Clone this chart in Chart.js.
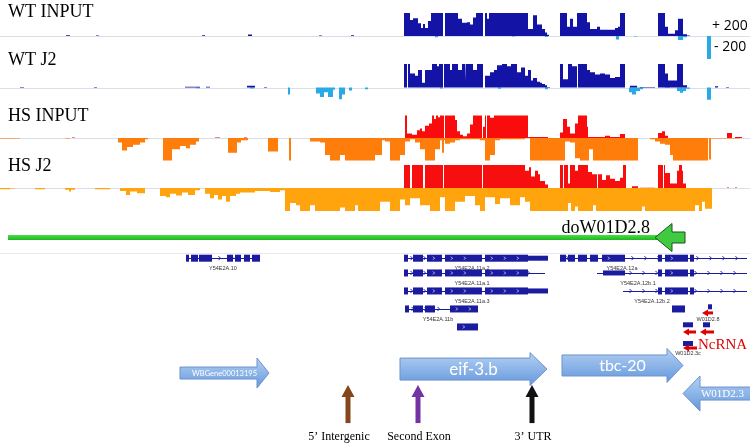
<!DOCTYPE html>
<html>
<head>
<meta charset="utf-8">
<script src="https://cdn.jsdelivr.net/npm/chart.js@4.4.1/dist/chart.umd.min.js"></script>
<style>
  html, body { margin: 0; padding: 0; background: #fff; }
  canvas { display: block; }
</style>
</head>
<body>
<canvas id="locus" width="750" height="443"></canvas>
<script>
// ---- coverage tracks: [position, value] -- value holds until the next position ----
const trackNames = ['WT INPUT', 'WT J2', 'HS INPUT', 'HS J2'];

const wtInputPlus = [[0,0],[66,6],[70,0],[96,5],[99,0],[202,6],[205,0],[248,14],[252,0],[319,5],[322,0],[351,6],[354,0],
  [404,200],[410,140],[413,155],[418,110],[421,70],[423,105],[425,70],[428,130],[431,200],[443,0],[445,200],[458,150],[462,115],[467,120],[470,100],[473,160],[476,200],[483,0],[485,200],[487,150],[489,200],[528,60],[533,180],[537,100],[542,60],[545,30],[547,10],[549,0],
  [560,200],[567,80],[570,150],[573,80],[577,200],[587,120],[590,60],[597,80],[600,55],[615,70],[618,80],[620,200],[625,0],
  [658,200],[665,80],[668,20],[675,50],[678,150],[683,15],[687,5],[690,0],[750,0]];
const wtInputMinus = [[0,0],[435,-10],[438,0],[512,-5],[515,0],[545,-8],[548,0],[616,-30],[619,0],[634,-5],[637,0],[678,-35],[683,-10],[687,0],[750,0]];
const scaleBar = [[0,0],[707,-200],[711,0],[750,0]];

const wtJ2Plus = [[0,0],[20,5],[24,0],[94,5],[97,0],[185,7],[200,0],[206,6],[210,0],[247,14],[255,0],[264,5],[267,0],
  [404,200],[407,0],[408,200],[410,120],[415,100],[418,150],[422,40],[425,150],[432,200],[437,180],[439,200],[443,0],[444,200],[450,150],[452,200],[458,150],[462,200],[465,60],[466,200],[470,200],[473,150],[477,200],[483,0],[485,100],[490,130],[494,150],[497,190],[502,200],[507,180],[511,200],[517,130],[521,170],[525,100],[528,150],[531,60],[533,80],[537,50],[540,40],[542,30],[545,20],[547,5],[550,0],
  [560,200],[563,70],[568,200],[572,180],[577,0],[578,200],[587,150],[590,130],[595,110],[600,120],[605,110],[610,80],[615,90],[620,200],[625,0],
  [630,15],[637,0],[640,5],[655,0],[658,200],[665,120],[668,60],[677,200],[683,20],[687,0],[715,10],[718,0],[726,5],[729,0],[750,0]];
const wtJ2Minus = [[0,0],[196,-6],[200,0],[250,-8],[254,0],[288,-60],[290,0],[316,-50],[320,-80],[324,-40],[328,-80],[333,-20],[335,0],[339,-100],[342,-60],[345,0],[349,-25],[352,0],[365,-15],[368,0],
  [440,-8],[443,0],[498,-10],[501,0],[545,-15],[548,0],[629,-40],[632,-60],[636,-30],[640,-15],[643,0],[665,-5],[670,0],[677,-30],[680,-45],[683,-30],[686,-10],[690,0],[707,-105],[711,0],[750,0]];

const hsInputPlus = [[0,0],[72,5],[75,0],[215,5],[220,0],[244,4],[247,0],
  [405,200],[407,40],[412,30],[417,70],[420,85],[422,60],[425,110],[429,130],[432,200],[434,170],[436,200],[438,185],[440,200],[444,0],[445,200],[455,160],[457,60],[460,30],[463,15],[467,40],[470,120],[473,200],[482,0],[483,100],[485,200],[486,0],[487,200],[490,180],[494,200],[528,8],[548,0],
  [560,50],[563,170],[567,100],[570,40],[575,130],[578,200],[587,100],[588,10],[605,20],[610,10],[620,35],[625,0],
  [658,45],[662,60],[665,20],[668,0],[727,45],[732,0],[735,10],[742,0],[750,0]];
const hsInputMinus = [[0,-5],[20,0],[65,-5],[70,0],[118,-40],[122,-110],[127,-80],[133,-60],[140,-40],[145,-10],[148,0],
  [163,-200],[172,-100],[180,-70],[186,-90],[190,-60],[196,-30],[199,0],
  [228,-130],[237,-40],[241,-20],[248,0],[268,-120],[278,0],[289,-200],[291,0],
  [310,-30],[320,-40],[325,-150],[330,-200],[340,-150],[345,-200],[375,-150],[382,-20],[385,-30],[390,-200],[400,-150],[405,-30],[410,-10],[415,-40],[420,-100],[425,-200],[435,-100],[440,-20],[442,-130],[444,-20],[445,-50],[450,-40],[455,-20],[460,-10],[480,-20],[485,-200],[490,-150],[495,-20],[500,-10],[525,0],
  [530,-200],[565,-30],[570,-40],[575,-180],[580,-200],[589,-100],[593,-200],[638,0],
  [650,-10],[655,-30],[660,-50],[665,-60],[670,-150],[673,-200],[708,0],[709,-190],[711,-5],[740,0],[750,0]];

const hsJ2Plus = [[0,0],[404,200],[410,0],[412,200],[423,0],[425,200],[443,0],[444,200],[482,0],[483,200],[525,150],[529,180],[531,100],[535,150],[538,120],[540,60],[545,30],[548,0],
  [560,200],[563,0],[564,200],[568,40],[570,200],[575,150],[578,200],[588,140],[592,120],[597,0],[598,120],[602,70],[606,110],[610,80],[615,60],[620,90],[623,200],[626,0],
  [632,15],[638,0],[640,3],[655,0],[658,200],[663,0],[664,200],[665,130],[670,40],[677,150],[679,200],[682,150],[683,40],[686,0],[727,5],[729,0],[735,5],[737,0],[750,0]];
const hsJ2Minus = [[0,-10],[10,-5],[15,0],[35,-10],[45,0],[65,-15],[69,-30],[71,-15],[75,0],[95,-10],[110,0],
  [120,-25],[126,-60],[130,-30],[137,-45],[145,0],[160,-70],[166,-80],[170,-50],[176,-65],[182,-40],[188,-60],[195,-20],[200,0],
  [205,-50],[210,-90],[214,-60],[218,-100],[222,-70],[226,-120],[230,-70],[236,-50],[240,-40],[255,-25],[270,-35],[280,-20],[285,-200],[290,-130],[296,-150],[300,-200],[310,-150],[315,-200],[340,-170],[345,-200],[355,-150],[358,-200],
  [380,-120],[390,-200],[400,-100],[405,-150],[410,-90],[420,-150],[430,-200],[440,-80],[445,-200],[455,-120],[465,-70],[475,-150],[480,-200],[485,-80],[495,-140],[500,-90],[510,-150],[520,-80],[525,-120],[530,-200],[568,-130],[571,-200],[575,-160],[578,-200],[593,-150],[596,-200],[642,-160],[645,-200],[695,-150],[699,-200],[702,-120],[705,-180],[712,0],[750,0]];

// ---- annotation features (position along the locus, lane) ----
const featureName = 'doW01D2.8';
const featureSpan = [8, 685];
const featureLane = 1.25;

const transcripts = [
  { name: 'Y54E2A.10',    lane: 2.4,  span: [186, 260], exons: [[186,189],[191,198],[199,212],[227,233],[235,241],[244,250],[252,260]], utr: [], labelAt: 223 },
  { name: 'Y54E2A.11a.2', lane: 2.4,  span: [404, 548], exons: [[404,408],[413,423],[427,442],[445,482],[485,528]], utr: [[528,548]], labelAt: 472 },
  { name: 'Y54E2A.12a',   lane: 2.4,  span: [560, 747], exons: [[560,566],[568,575],[578,587],[590,598],[602,625],[658,662],[665,688],[690,694]], utr: [], labelAt: 622 },
  { name: 'Y54E2A.11a.1', lane: 3.22, span: [404, 545], exons: [[404,408],[413,423],[427,442],[445,482],[485,528]], utr: [], labelAt: 472 },
  { name: 'Y54E2A.12b.1', lane: 3.22, span: [597, 747], exons: [[658,662],[665,688],[690,694]], utr: [[603,625]], labelAt: 638 },
  { name: 'Y54E2A.11a.3', lane: 4.22, span: [404, 548], exons: [[404,408],[413,423],[427,442],[445,482],[485,528]], utr: [[528,548]], labelAt: 472 },
  { name: 'Y54E2A.12b.2', lane: 4.22, span: [623, 747], exons: [[658,662],[665,688],[690,694]], utr: [], labelAt: 652 },
  { name: 'Y54E2A.11b',   lane: 5.22, span: [405, 478], exons: [[405,409],[413,423],[425,435],[450,478]], utr: [], labelAt: 438 },
  { name: '',             lane: 5.22, span: [672, 685], exons: [[672,685]], utr: [], labelAt: 0 },
  { name: '',             lane: 6.22, span: [457, 478], exons: [[457,478]], utr: [], labelAt: 0 }
];

const ncrnaBlocks = [[708,712,5.1],[683,693,6.1],[703,710,6.1],[683,693,7.14]];
const ncrnaArrows = [[713,702,5.44],[696,683,6.5],[714,700,6.5],[697,683,7.39]];
const smallLabels = [['W01D2.8',708,5.83],['W01D2.3c',688,7.72]];
const ncrnaText = ['NcRNA', 698, 7.45];

const geneArrows = [
  { name: 'WBGene00013195', from: 180, to: 269, lane: 8.78 },
  { name: 'eif-3.b',        from: 400, to: 547, lane: 8.56 },
  { name: 'tbc-20',         from: 562, to: 683, lane: 8.36 },
  { name: 'W01D2.3',        from: 762, to: 683, lane: 9.92 }
];

const markerNames = ['5\u2019 Intergenic', 'Second Exon', '3\u2019 UTR'];
const markerPos = [348, 418, 532];
const markerLabelPos = [339, 419, 533];
const markerColors = ['#84461a', '#7433a3', '#111111'];

// ---- layout ----
const H = 443;
const trackLayout = [
  { id: 'yWI', base: 36,   half: 23,   labelY: 17 },
  { id: 'yWJ', base: 87.5, half: 23.5, labelY: 65 },
  { id: 'yHI', base: 138,  half: 22.5, labelY: 121 },
  { id: 'yHJ', base: 188,  half: 23,   labelY: 171 }
];
const lanePx = 18, laneTop = 215;
const arrowStyles = [
  { body: 12, head: 30, len: 12, font: '7.5px Lato' },
  { body: 22, head: 33, len: 17, font: '17px Lato' },
  { body: 21, head: 34, len: 16, font: '16px Lato' },
  { body: 13, head: 35, len: 17, font: '11px "Liberation Serif"' }
];

function steps(runs) {
  const pts = [];
  runs.forEach(([x, v], i) => {
    const prev = i ? runs[i - 1][1] : 0;
    pts.push({ x: x, y: prev }, { x: x, y: v });
  });
  return pts;
}

function trackAxis(t) {
  const k = 200 / t.half;
  return { axis: 'y', display: false, min: -(H - t.base) * k, max: t.base * k };
}

function area(runs, color, axis) {
  return {
    data: steps(runs), yAxisID: axis, fill: 'origin',
    backgroundColor: color, borderColor: 'rgba(0,0,0,0)', borderWidth: 0,
    pointRadius: 0, tension: 0
  };
}

const scales = { x: { type: 'linear', display: false, min: 0, max: 750 } };
trackLayout.forEach(t => { scales[t.id] = trackAxis(t); });
scales.lane = { axis: 'y', position: 'left', display: false, reverse: true,
  min: -laneTop / lanePx, max: (H - laneTop) / lanePx };

// ---- drawing of labels and gene annotations ----
const annotate = {
  id: 'annotate',
  beforeDatasetsDraw(chart) {
    const ctx = chart.ctx;
    ctx.save();
    ctx.strokeStyle = '#d9dee8';
    ctx.lineWidth = 1;
    trackLayout.forEach(t => {
      const y = Math.round(chart.scales[t.id].getPixelForValue(0)) + 0.5;
      ctx.beginPath(); ctx.moveTo(0, y); ctx.lineTo(750, y); ctx.stroke();
    });
    const yl = Math.round(chart.scales.lane.getPixelForValue(2.1)) + 0.5;
    ctx.strokeStyle = '#e6e9f0';
    ctx.beginPath(); ctx.moveTo(0, yl); ctx.lineTo(750, yl); ctx.stroke();
    ctx.restore();
  },
  afterDatasetsDraw(chart) {
    const ctx = chart.ctx;
    const X = v => chart.scales.x.getPixelForValue(v);
    const Y = v => chart.scales.lane.getPixelForValue(v);
    ctx.save();

    // track names
    ctx.fillStyle = '#000';
    ctx.font = '18px "Liberation Serif"';
    ctx.textBaseline = 'alphabetic';
    trackNames.forEach((n, i) => ctx.fillText(n, 8, trackLayout[i].labelY));

    // scale legend
    ctx.font = '14px "Open Sans"';
    const sAx = chart.scales.yWI;
    ctx.fillText('+ 200', 712, sAx.getPixelForValue(0) - 6);
    ctx.fillText('- 200', 714, sAx.getPixelForValue(-130));

    // green feature arrow
    const fy = Y(featureLane);
    const fx0 = X(featureSpan[0]), fx1 = X(featureSpan[1]);
    const tip = fx1 - 30, hb = fx1 - 13;
    const g = ctx.createLinearGradient(0, fy - 3, 0, fy + 3);
    g.addColorStop(0, '#4fe04f'); g.addColorStop(1, '#18b418');
    ctx.fillStyle = g;
    ctx.fillRect(fx0, fy - 2.5, hb - fx0, 5);
    ctx.beginPath();
    ctx.moveTo(tip, fy); ctx.lineTo(hb, fy - 14); ctx.lineTo(hb, fy - 5.5); ctx.lineTo(fx1, fy - 5.5);
    ctx.lineTo(fx1, fy + 5.5); ctx.lineTo(hb, fy + 5.5); ctx.lineTo(hb, fy + 14); ctx.closePath();
    ctx.fillStyle = '#3fca3f'; ctx.fill();
    ctx.strokeStyle = '#1f4f1f'; ctx.lineWidth = 1; ctx.stroke();
    ctx.fillStyle = '#000';
    ctx.font = '18px "Liberation Serif"';
    ctx.textAlign = 'right';
    ctx.fillText(featureName, tip - 5, fy - 4.5);

    // transcripts
    const blue = '#1b1ba0';
    transcripts.forEach(t => {
      const y = Y(t.lane);
      ctx.strokeStyle = blue; ctx.lineWidth = 1;
      ctx.beginPath(); ctx.moveTo(X(t.span[0]), Math.round(y) + 0.5); ctx.lineTo(X(t.span[1]), Math.round(y) + 0.5); ctx.stroke();
      // chevrons on the intron line
      for (let p = t.span[0] + 8; p < t.span[1] - 3; p += 13) {
        ctx.beginPath(); ctx.moveTo(X(p) - 1.5, y - 2); ctx.lineTo(X(p) + 0.5, y); ctx.lineTo(X(p) - 1.5, y + 2); ctx.stroke();
      }
      ctx.fillStyle = blue;
      t.utr.forEach(([a, b]) => ctx.fillRect(X(a), y - 2.5, X(b) - X(a), 5));
      t.exons.forEach(([a, b]) => {
        ctx.fillStyle = blue;
        ctx.fillRect(X(a), y - 3.5, X(b) - X(a), 7);
        if (b - a >= 14) {
          ctx.strokeStyle = '#c8c8f0';
          for (let p = a + 7; p < b - 4; p += 13) {
            ctx.beginPath(); ctx.moveTo(X(p) - 1, y - 1.5); ctx.lineTo(X(p) + 0.5, y); ctx.lineTo(X(p) - 1, y + 1.5); ctx.stroke();
          }
        }
      });
      if (t.name) {
        ctx.fillStyle = '#333';
        ctx.font = '5.5px "Liberation Sans"';
        ctx.textAlign = 'center'; ctx.textBaseline = 'middle';
        ctx.fillText(t.name, X(t.labelAt), y + 10.5);
      }
    });

    // ncRNA marks
    ncrnaBlocks.forEach(([a, b, l]) => { ctx.fillStyle = blue; ctx.fillRect(X(a), Y(l) - 2.5, X(b) - X(a), 5); });
    ncrnaArrows.forEach(([a, b, l]) => {
      const y = Y(l);
      ctx.fillStyle = '#e00000';
      ctx.fillRect(X(b) + 5, y - 1.5, X(a) - X(b) - 5, 3);
      ctx.beginPath(); ctx.moveTo(X(b), y); ctx.lineTo(X(b) + 6, y - 3.5); ctx.lineTo(X(b) + 6, y + 3.5); ctx.closePath(); ctx.fill();
    });
    ctx.fillStyle = '#333';
    ctx.font = '5.5px "Liberation Sans"';
    ctx.textAlign = 'center'; ctx.textBaseline = 'middle';
    smallLabels.forEach(([n, x, l]) => ctx.fillText(n, X(x), Y(l)));
    ctx.fillStyle = '#e00000';
    ctx.font = '15px "Liberation Serif"';
    ctx.textAlign = 'left'; ctx.textBaseline = 'alphabetic';
    ctx.fillText(ncrnaText[0], X(ncrnaText[1]), Y(ncrnaText[2]));

    // gene block arrows
    geneArrows.forEach((a, i) => {
      const s = arrowStyles[i];
      const y = Y(a.lane), x0 = X(a.from), x1 = X(a.to);
      const dir = Math.sign(x1 - x0), hbx = x1 - dir * s.len;
      ctx.beginPath();
      ctx.moveTo(x0, y - s.body / 2); ctx.lineTo(hbx, y - s.body / 2); ctx.lineTo(hbx, y - s.head / 2);
      ctx.lineTo(x1, y); ctx.lineTo(hbx, y + s.head / 2); ctx.lineTo(hbx, y + s.body / 2);
      ctx.lineTo(x0, y + s.body / 2); ctx.closePath();
      const gg = ctx.createLinearGradient(0, y - s.head / 2, 0, y + s.head / 2);
      gg.addColorStop(0, '#b4d1f3'); gg.addColorStop(1, '#6598dc');
      ctx.fillStyle = gg; ctx.fill();
      ctx.strokeStyle = '#6b93cc'; ctx.lineWidth = 1; ctx.stroke();
      ctx.fillStyle = '#fff';
      ctx.font = s.font;
      ctx.textAlign = 'center'; ctx.textBaseline = 'middle';
      ctx.fillText(a.name, (x0 + x1) / 2, y + 0.5);
    });

    // pointer arrows with labels
    const tipY = Y(9.44), tailY = Y(11.56);
    markerPos.forEach((p, i) => {
      const x = X(p);
      ctx.fillStyle = markerColors[i];
      ctx.fillRect(x - 2.5, tipY + 11, 5, tailY - tipY - 11);
      ctx.beginPath(); ctx.moveTo(x, tipY); ctx.lineTo(x + 6.5, tipY + 12); ctx.lineTo(x - 6.5, tipY + 12); ctx.closePath(); ctx.fill();
      ctx.fillStyle = '#000';
      ctx.font = '12px "Liberation Serif"';
      ctx.textAlign = 'center'; ctx.textBaseline = 'alphabetic';
      ctx.fillText(markerNames[i], X(markerLabelPos[i]), Y(12.5));
    });
    ctx.restore();
  }
};

new Chart(document.getElementById('locus'), {
  type: 'line',
  data: {
    datasets: [
      area(wtInputPlus, '#1313a6', 'yWI'),
      area(wtInputMinus, '#29aae6', 'yWI'),
      area(scaleBar, '#29aae6', 'yWI'),
      area(wtJ2Plus, '#1313a6', 'yWJ'),
      area(wtJ2Minus, '#29aae6', 'yWJ'),
      area(hsInputPlus, '#fa0c0c', 'yHI'),
      area(hsInputMinus, '#ff7d0b', 'yHI'),
      area(hsJ2Plus, '#f70e0e', 'yHJ'),
      area(hsJ2Minus, '#ffa40c', 'yHJ')
    ]
  },
  options: {
    responsive: false,
    animation: false,
    layout: { padding: 0 },
    plugins: { legend: { display: false }, tooltip: { enabled: false } },
    scales: scales
  },
  plugins: [annotate]
});
</script>
</body>
</html>
